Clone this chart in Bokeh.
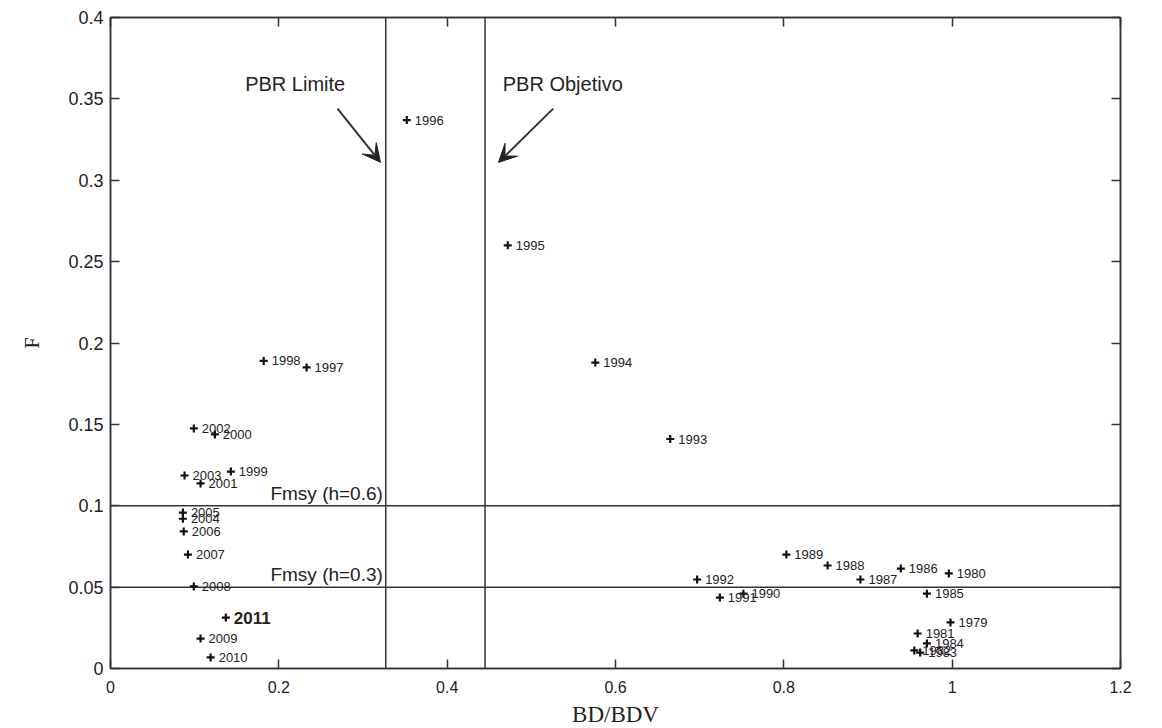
from bokeh.plotting import figure
from bokeh.models import (ColumnDataSource, FixedTicker, LinearAxis, Range1d,
                          Arrow, VeeHead, Label)
from bokeh.core.properties import value
from bokeh.embed import file_html
from bokeh.resources import INLINE

# ---- data ----
years = [1979, 1980, 1981, 1982, 1983, 1984, 1985, 1986, 1987, 1988, 1989,
         1990, 1991, 1992, 1993, 1994, 1995, 1996, 1997, 1998, 1999, 2000,
         2001, 2002, 2003, 2004, 2005, 2006, 2007, 2008, 2009, 2010, 2011]
bd_bdv = [0.998, 0.996, 0.959, 0.955, 0.962, 0.970, 0.970, 0.939, 0.891, 0.852, 0.803,
          0.752, 0.724, 0.697, 0.665, 0.576, 0.472, 0.352, 0.233, 0.182, 0.143, 0.124,
          0.107, 0.099, 0.088, 0.086, 0.086, 0.087, 0.092, 0.099, 0.107, 0.119, 0.137]
f_values = [0.0283, 0.0584, 0.0215, 0.0111, 0.0098, 0.0154, 0.0460, 0.0614, 0.0547, 0.0633, 0.0700,
            0.0460, 0.0436, 0.0547, 0.1410, 0.1880, 0.2600, 0.3370, 0.1850, 0.1890, 0.1210, 0.1438,
            0.1137, 0.1475, 0.1186, 0.0920, 0.0958, 0.0842, 0.0700, 0.0504, 0.0184, 0.0068, 0.0313]

x_ticks = [0, 0.2, 0.4, 0.6, 0.8, 1.0, 1.2]
x_tick_labels = ["0", "0.2", "0.4", "0.6", "0.8", "1", "1.2"]
y_ticks = [0, 0.05, 0.1, 0.15, 0.2, 0.25, 0.3, 0.35, 0.4]
y_tick_labels = ["0", "0.05", "0.1", "0.15", "0.2", "0.25", "0.3", "0.35", "0.4"]

pbr_limite = 0.327
pbr_objetivo = 0.445
fmsy_h06 = 0.1
fmsy_h03 = 0.05

highlight_year = 2011

LINE = "#333333"
TXT = "#222222"

p = figure(frame_width=1010, frame_height=651,
           x_range=Range1d(0, 1.2), y_range=Range1d(0, 0.4),
           output_backend="svg", toolbar_location=None,
           min_border_left=110, min_border_top=17, min_border_right=30,
           min_border_bottom=55, background_fill_color="white",
           border_fill_color="white")
p.grid.visible = False
p.outline_line_color = LINE
p.outline_line_width = 1.5

# axes
p.xaxis.ticker = FixedTicker(ticks=x_ticks)
p.xaxis.major_label_overrides = {t: l for t, l in zip(x_ticks, x_tick_labels)}
p.yaxis.ticker = FixedTicker(ticks=y_ticks)
p.yaxis.major_label_overrides = {t: l for t, l in zip(y_ticks, y_tick_labels)}
for ax in (p.xaxis[0], p.yaxis[0]):
    ax.major_tick_in = 9
    ax.major_tick_out = 0
    ax.minor_tick_line_color = None
    ax.axis_line_color = LINE
    ax.axis_line_width = 1.5
    ax.major_tick_line_color = LINE
    ax.major_tick_line_width = 1.5
    ax.major_label_text_font = "Liberation Sans"
    ax.major_label_text_color = TXT
    ax.axis_label_text_font = "Liberation Serif"
    ax.axis_label_text_font_style = "normal"
    ax.axis_label_text_color = TXT
p.xaxis.major_label_text_font_size = "16px"
p.yaxis.major_label_text_font_size = "18px"
p.xaxis.major_label_standoff = 12
p.yaxis.major_label_standoff = 7
p.xaxis.axis_label = "BD/BDV"
p.xaxis.axis_label_text_font_size = "23px"
p.xaxis.axis_label_standoff = 6
p.yaxis.axis_label = "F"
p.yaxis.axis_label_text_font_size = "20px"
p.yaxis.axis_label_standoff = 22

# mirrored ticks on top and right (labels not painted)
axis_style = dict(major_label_text_font_size="2px", major_label_text_color=None,
                  major_label_standoff=0,
                  major_tick_in=9, major_tick_out=0, minor_tick_line_color=None,
                  axis_line_color=LINE, axis_line_width=1.5,
                  major_tick_line_color=LINE, major_tick_line_width=1.5)
top_ax = LinearAxis(ticker=FixedTicker(ticks=x_ticks), **axis_style)
right_ax = LinearAxis(ticker=FixedTicker(ticks=y_ticks), **axis_style)
p.add_layout(top_ax, "above")
p.add_layout(right_ax, "right")

# Fmsy labels (drawn before the reference lines)
p.text(x=[0.190, 0.190], y=[fmsy_h06 + 0.0012, fmsy_h03 + 0.0012],
       text=["Fmsy (h=0.6)", "Fmsy (h=0.3)"],
       text_font=value("Liberation Sans"), text_font_size="19px",
       text_color=TXT, text_baseline="bottom", text_align="left")

# reference lines
p.segment(x0=[0, 0], x1=[1.2, 1.2], y0=[fmsy_h06, fmsy_h03], y1=[fmsy_h06, fmsy_h03],
          line_color=LINE, line_width=1.5)
p.segment(x0=[pbr_limite, pbr_objetivo], x1=[pbr_limite, pbr_objetivo],
          y0=[0, 0], y1=[0.4, 0.4], line_color=LINE, line_width=1.5)

# points
small = [i for i, yr in enumerate(years) if yr != highlight_year]
big = [i for i, yr in enumerate(years) if yr == highlight_year]
src_small = ColumnDataSource(dict(x=[bd_bdv[i] for i in small], y=[f_values[i] for i in small],
                                  t=[str(years[i]) for i in small]))
src_big = ColumnDataSource(dict(x=[bd_bdv[i] for i in big], y=[f_values[i] for i in big],
                                t=[str(years[i]) for i in big]))
p.scatter(x=bd_bdv, y=f_values, marker="cross", size=8, line_width=2.2, color="#111111")
p.text(x="x", y="y", text="t", source=src_small, x_offset=8,
       text_font=value("Liberation Sans"), text_font_size="13px",
       text_color=TXT, text_baseline="middle", text_align="left")
p.text(x="x", y="y", text="t", source=src_big, x_offset=8,
       text_font=value("Liberation Sans"), text_font_size="17px", text_font_style="bold",
       text_color=TXT, text_baseline="middle", text_align="left")

# annotations
p.add_layout(Label(x=0.160, y=0.3594, text="PBR Limite", text_font="Liberation Sans",
                   text_font_size="20px", text_color=TXT, text_baseline="middle"))
p.add_layout(Label(x=0.466, y=0.3594, text="PBR Objetivo", text_font="Liberation Sans",
                   text_font_size="20px", text_color=TXT, text_baseline="middle"))
p.add_layout(Arrow(end=VeeHead(size=18, fill_color="#222222", line_color="#222222"),
                   x_start=0.2697, y_start=0.344, x_end=0.3208, y_end=0.311,
                   line_width=2, line_color="#333333"))
p.add_layout(Arrow(end=VeeHead(size=18, fill_color="#222222", line_color="#222222"),
                   x_start=0.526, y_start=0.344, x_end=0.461, y_end=0.311,
                   line_width=2, line_color="#333333"))

open("out.html", "w").write(file_html(p, INLINE))
